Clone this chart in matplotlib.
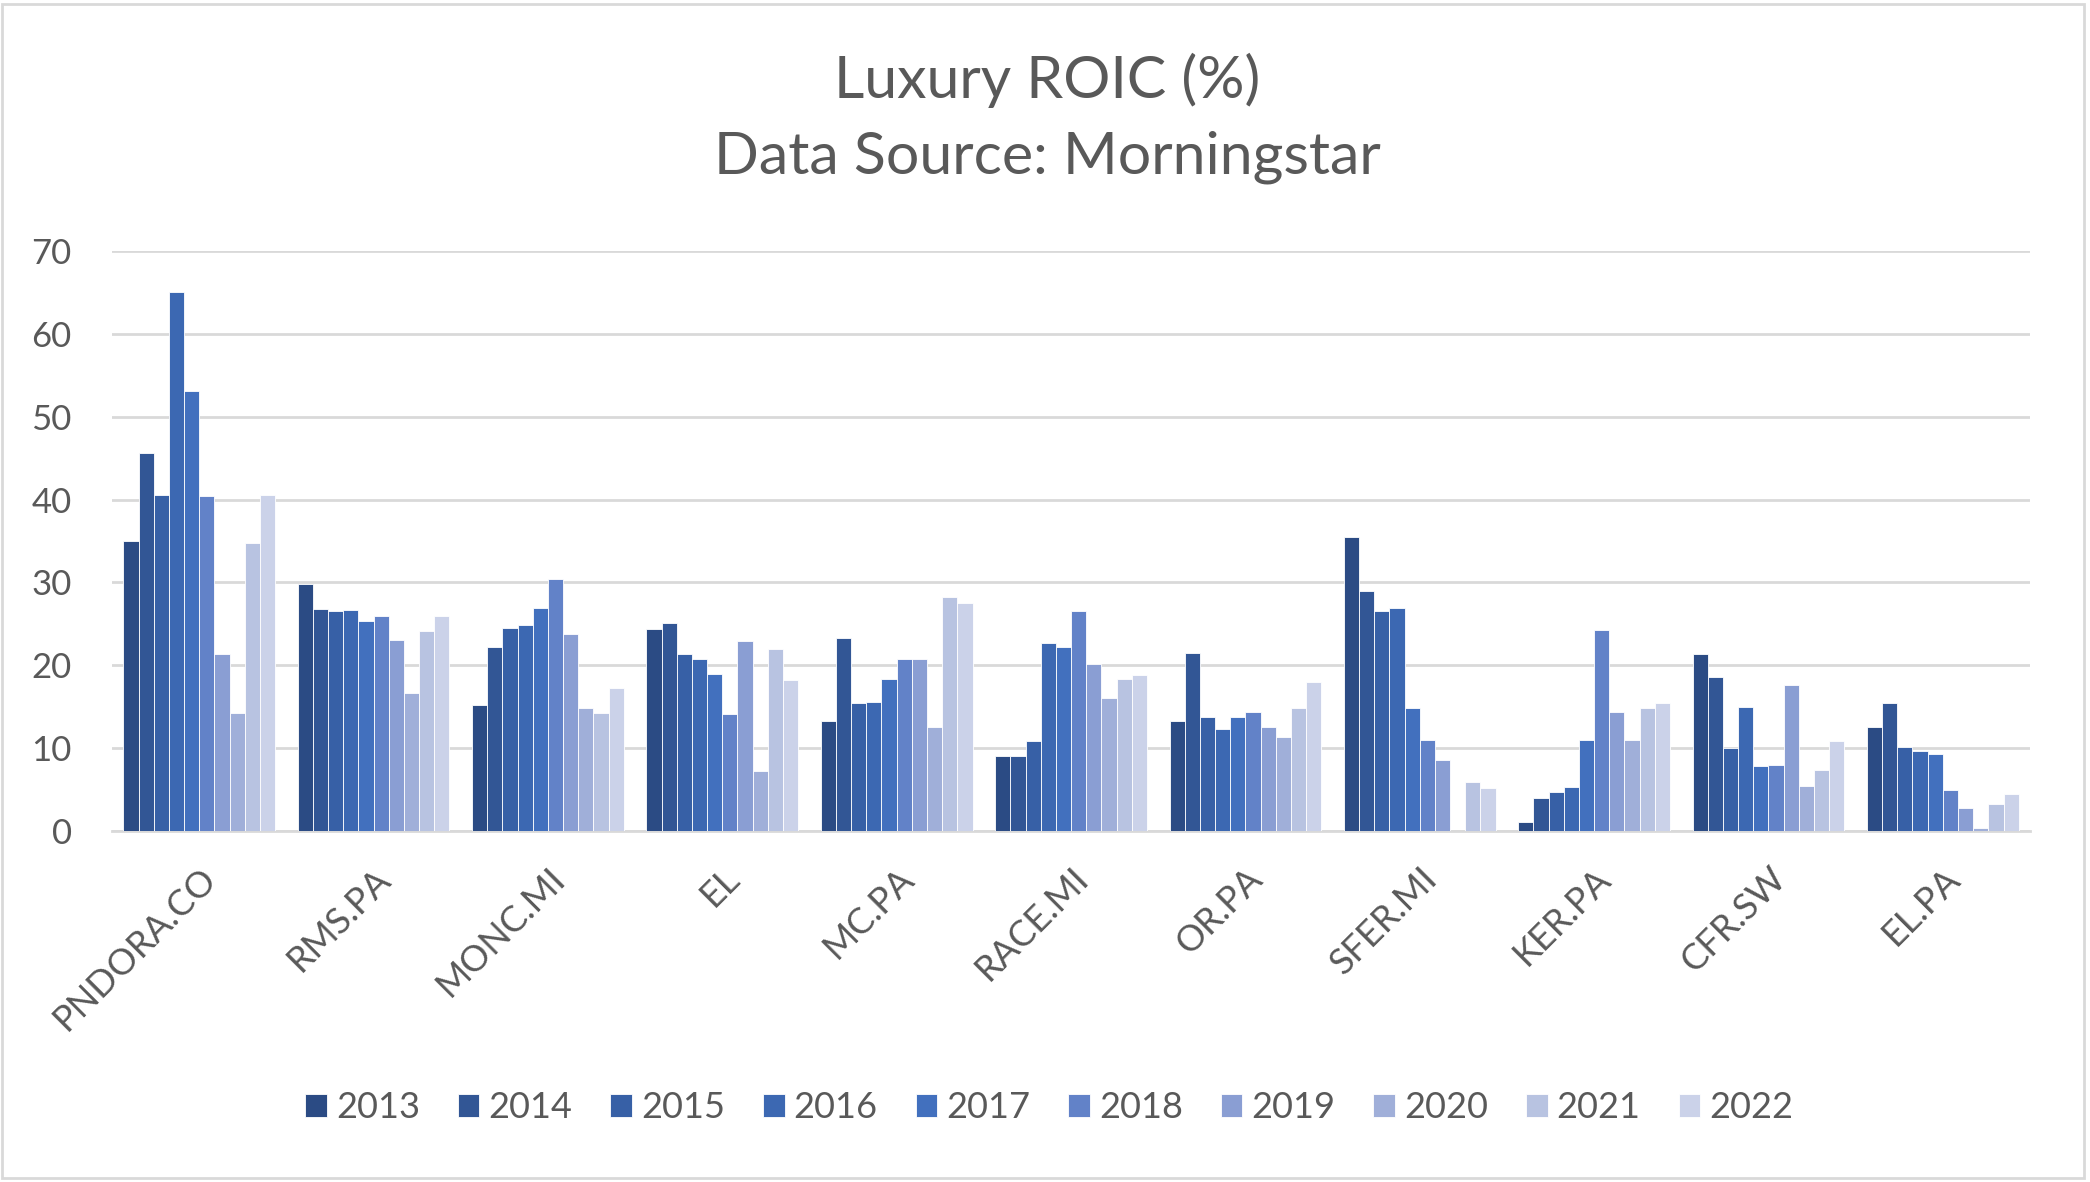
import numpy as np
import matplotlib.pyplot as plt
from matplotlib.patches import Rectangle

# tickers and ROIC per year
tickers = ["PNDORA.CO", "RMS.PA", "MONC.MI", "EL", "MC.PA", "RACE.MI",
           "OR.PA", "SFER.MI", "KER.PA", "CFR.SW", "EL.PA"]
years = ["2013", "2014", "2015", "2016", "2017", "2018", "2019", "2020", "2021", "2022"]

roic_2013 = [35.0, 29.8, 15.2, 24.4, 13.3, 9.1, 13.3, 35.5, 1.1, 21.3, 12.5]
roic_2014 = [45.6, 26.8, 22.2, 25.1, 23.3, 9.0, 21.5, 29.0, 4.0, 18.6, 15.4]
roic_2015 = [40.5, 26.5, 24.5, 21.3, 15.4, 10.8, 13.8, 26.6, 4.7, 10.0, 10.1]
roic_2016 = [65.1, 26.7, 24.8, 20.7, 15.6, 22.7, 12.3, 26.9, 5.3, 15.0, 9.6]
roic_2017 = [53.1, 25.4, 26.9, 18.9, 18.4, 22.2, 13.8, 14.8, 11.0, 7.8, 9.3]
roic_2018 = [40.4, 26.0, 30.4, 14.1, 20.7, 26.6, 14.3, 11.0, 24.2, 8.0, 4.9]
roic_2019 = [21.3, 23.0, 23.8, 22.9, 20.7, 20.1, 12.5, 8.6, 14.3, 17.6, 2.8]
roic_2020 = [14.2, 16.6, 14.8, 7.2, 12.6, 16.0, 11.3, 0.0, 11.0, 5.4, 0.3]
roic_2021 = [34.8, 24.1, 14.2, 22.0, 28.3, 18.3, 14.9, 5.9, 14.8, 7.3, 3.3]
roic_2022 = [40.6, 26.0, 17.3, 18.2, 27.5, 18.8, 18.0, 5.2, 15.4, 10.9, 4.5]

series = [roic_2013, roic_2014, roic_2015, roic_2016, roic_2017,
          roic_2018, roic_2019, roic_2020, roic_2021, roic_2022]
colors = ["#2B4B84", "#325695", "#3760A6", "#3C68B2", "#4270BE",
          "#6282C8", "#8A9ED3", "#A0AFD9", "#B8C3E1", "#CBD2E9"]

plt.rcParams['font.family'] = ['Lato', 'DejaVu Sans']
txt = "#595959"

fig = plt.figure(figsize=(20.9, 11.82), dpi=100)
ax = fig.add_axes([0.0536, 0.297, 0.9177, 0.4906])

x = np.arange(len(tickers))
n = len(series)
group = 0.87
w = group / n
for i, vals in enumerate(series):
    ax.bar(x - group / 2 + w * (i + 0.5), vals, width=w, color=colors[i],
           edgecolor="white", linewidth=0.6, label=years[i], zorder=3)

ax.set_xlim(-0.5, len(tickers) - 0.5)
ax.set_ylim(0, 70)
ax.set_yticks(range(0, 71, 10))
ax.yaxis.grid(True, color="#D9D9D9", linewidth=2, zorder=0)
for s in ["top", "right", "left"]:
    ax.spines[s].set_visible(False)
ax.spines["bottom"].set_color("#D9D9D9")
ax.spines["bottom"].set_linewidth(2)
ax.tick_params(axis="both", length=0, colors=txt, labelsize=25)
ax.tick_params(axis="y", pad=29)
ax.set_xticks(x)
ax.set_xticklabels(tickers, rotation=45, ha="right", rotation_mode="anchor",
                   fontsize=26)
ax.tick_params(axis="x", pad=22)

fig.text(0.501, 0.932, "Luxury ROIC (%)", ha="center", va="center",
         fontsize=42.5, color=txt)
fig.text(0.501, 0.867, "Data Source: Morningstar", ha="center", va="center",
         fontsize=42.5, color=txt)

leg = fig.legend(loc="center", bbox_to_anchor=(0.502, 0.063), ncol=10,
                 frameon=False, fontsize=26, handlelength=0.6, handleheight=0.6,
                 handletextpad=0.25, columnspacing=1.05)
for t in leg.get_texts():
    t.set_color(txt)

fig.patches.append(Rectangle((0.001, 0.003), 0.996, 0.994, transform=fig.transFigure,
                             fill=False, edgecolor="#D9D9D9", linewidth=2))

fig.savefig("out.png", dpi=100, facecolor="white")
